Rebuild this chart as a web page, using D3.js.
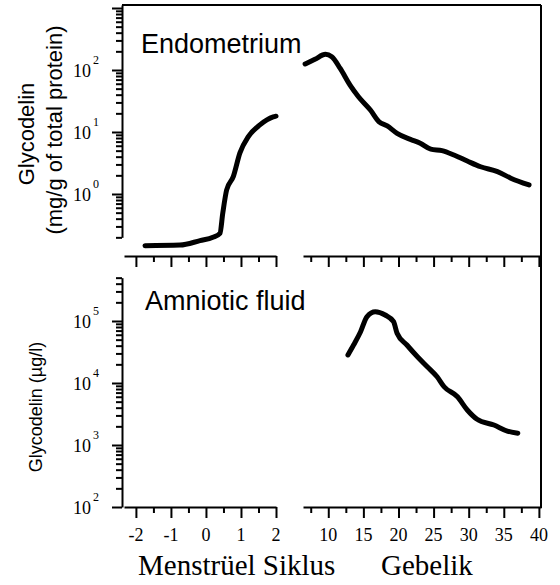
<!DOCTYPE html>
<html>
<head>
<meta charset="utf-8">
<script src="https://cdn.jsdelivr.net/npm/d3@7"></script>
<style>
  body { margin: 0; background: #fff; }
  svg { display: block; }
  .sans { font-family: "Liberation Sans", Arial, sans-serif; }
  .serif { font-family: "Liberation Serif", "Times New Roman", serif; }
</style>
</head>
<body>
<svg id="chart" width="560" height="585"></svg>
<script>
// menstrual cycle (months around ovulation) -> endometrium glycodelin
const cycleTime = [-1.74, -0.74, -0.17, 0.2, 0.4, 0.48, 0.59, 0.78, 0.97, 1.21, 1.54, 1.92, 2.0];
const endoCycle = [0.147, 0.150, 0.177, 0.2, 0.232, 0.49, 1.16, 1.9, 4.6, 8.4, 13, 17.5, 18];

// pregnancy weeks -> endometrium glycodelin
const pregWeekEndo = [6.7, 8.1, 9.6, 10.5, 11.7, 13.1, 14.3, 16, 17.2, 18.4, 19.8, 21.7, 23.1, 24.6, 26.2, 27.9, 29.8, 31.7, 34.1, 36, 38.6];
const endoPreg = [125, 149, 179, 164, 106, 57, 37, 22.6, 14.7, 12.5, 9.5, 7.6, 6.6, 5.3, 5.0, 4.25, 3.4, 2.75, 2.3, 1.8, 1.4];

// pregnancy weeks -> amniotic fluid glycodelin
const pregWeekAmnio = [12.8, 13.6, 14.6, 15.5, 16.7, 18.1, 19.3, 19.8, 21.2, 22.7, 24.1, 25.5, 26.5, 28.4, 29.8, 31.2, 33.6, 35.5, 37.0];
const amnioPreg = [28300, 41000, 67100, 117000, 141000, 125000, 97500, 63400, 41000, 26500, 18300, 12600, 8700, 6000, 3670, 2600, 2100, 1680, 1550];

const cycleTicks = [-2, -1, 0, 1, 2];
const weekTicks = [10, 15, 20, 25, 30, 35, 40];
const topYLabels = [0, 1, 2];      // exponents
const bottomYLabels = [2, 3, 4, 5];

const svg = d3.select("#chart");
const decade = 62;

// scales
const xCycle = d3.scaleLinear().domain([-2.34, 2]).range([124, 276]);
const xWeek = d3.scaleLinear().domain([6.4, 40.3]).range([303, 541]);
const yTop = d3.scaleLog().domain([0.2, 1120])
    .range([194 - decade * Math.log10(0.2), 194 - decade * Math.log10(1120)]);
const yBot = d3.scaleLog().domain([100, 5e5])
    .range([507, 507 - decade * Math.log10(5e5 / 100)]);

const axisX = 122;

function styleAxis(sel) {
    sel.selectAll("path").attr("stroke", "#000").attr("stroke-width", 2);
    sel.selectAll("line").attr("stroke", "#000").attr("stroke-width", 2);
}

function drawLogAxis(y) {
    const all = y.ticks();
    const isMajor = v => Math.abs(Math.log10(v) - Math.round(Math.log10(v))) < 1e-6;
    const minor = svg.append("g")
        .attr("transform", `translate(${axisX},0)`)
        .call(d3.axisLeft(y).tickValues(all.filter(v => !isMajor(v))).tickSize(6).tickSizeOuter(0).tickFormat(""));
    styleAxis(minor);
    const major = svg.append("g")
        .attr("transform", `translate(${axisX},0)`)
        .call(d3.axisLeft(y).tickValues(all.filter(isMajor)).tickSize(10).tickSizeOuter(0).tickFormat(""));
    major.select(".domain").remove();
    styleAxis(major);
}

function drawPowLabels(y, exps) {
    exps.forEach(e => {
        svg.append("text").attr("class", "serif")
            .attr("x", 91).attr("y", y(Math.pow(10, e)) + 7)
            .attr("text-anchor", "end").attr("font-size", 18).text("10");
        svg.append("text").attr("class", "serif")
            .attr("x", 93).attr("y", y(Math.pow(10, e)) - 6)
            .attr("font-size", 12).text(e);
    });
}

function drawXAxis(x, yPos, vals, isMajor, labels) {
    const minor = svg.append("g")
        .attr("transform", `translate(0,${yPos})`)
        .call(d3.axisBottom(x).tickValues(vals.filter(v => !isMajor(v))).tickSize(6).tickSizeOuter(0).tickFormat(""));
    styleAxis(minor);
    const major = svg.append("g")
        .attr("transform", `translate(0,${yPos})`)
        .call(d3.axisBottom(x).tickValues(vals.filter(isMajor)).tickSize(11).tickSizeOuter(0).tickFormat(""));
    major.select(".domain").remove();
    styleAxis(major);
    if (labels) {
        svg.append("g").selectAll("text")
            .data(labels)
            .enter().append("text")
            .attr("class", "serif")
            .attr("x", d => x(d))
            .attr("y", yPos + 34)
            .attr("text-anchor", "middle")
            .attr("font-size", 18)
            .text(d => d);
    }
}

// frame: top border and right border
svg.append("line").attr("x1", axisX).attr("x2", 541).attr("y1", 5).attr("y2", 5)
    .attr("stroke", "#000").attr("stroke-width", 2);
svg.append("line").attr("x1", 541).attr("x2", 541).attr("y1", 5).attr("y2", 508)
    .attr("stroke", "#000").attr("stroke-width", 2);

// y axes
drawLogAxis(yTop);
drawLogAxis(yBot);
drawPowLabels(yTop, topYLabels);
drawPowLabels(yBot, bottomYLabels);

// x axes
const cycleVals = d3.range(-2, 2.01, 0.5);
const weekVals = d3.range(7.5, 40.01, 2.5);
const cycMajor = v => Math.abs(v - Math.round(v)) < 1e-6;
const wkMajor = v => Math.abs(v / 5 - Math.round(v / 5)) < 1e-6;
drawXAxis(xCycle, 256, cycleVals, cycMajor, null);
drawXAxis(xWeek, 256, weekVals, wkMajor, null);
drawXAxis(xCycle, 507, cycleVals, cycMajor, cycleTicks);
drawXAxis(xWeek, 507, weekVals, wkMajor, weekTicks);

// curves
function drawCurve(xs, ys, x, y) {
    const pts = xs.map((d, i) => [d, ys[i]]);
    const line = d3.line()
        .x(d => x(d[0]))
        .y(d => y(d[1]))
        .curve(d3.curveMonotoneX);
    svg.append("path")
        .datum(pts)
        .attr("fill", "none")
        .attr("stroke", "#000")
        .attr("stroke-width", 5)
        .attr("stroke-linejoin", "round")
        .attr("stroke-linecap", "round")
        .attr("d", line);
}
drawCurve(cycleTime, endoCycle, xCycle, yTop);
drawCurve(pregWeekEndo, endoPreg, xWeek, yTop);
drawCurve(pregWeekAmnio, amnioPreg, xWeek, yBot);

// panel titles
svg.append("text").attr("class", "sans").attr("x", 141).attr("y", 53)
    .attr("font-size", 27).text("Endometrium");
svg.append("text").attr("class", "sans").attr("x", 145).attr("y", 310)
    .attr("font-size", 27).text("Amniotic fluid");

// y axis titles
svg.append("text").attr("class", "sans")
    .attr("transform", "translate(34,134) rotate(-90)")
    .attr("text-anchor", "middle").attr("font-size", 22).text("Glycodelin");
svg.append("text").attr("class", "sans")
    .attr("transform", "translate(62,130) rotate(-90)")
    .attr("text-anchor", "middle").attr("font-size", 22).text("(mg/g of total protein)");
svg.append("text").attr("class", "sans")
    .attr("transform", "translate(42,407) rotate(-90)")
    .attr("text-anchor", "middle").attr("font-size", 18).text("Glycodelin (µg/l)");

// x axis titles
svg.append("text").attr("class", "serif").attr("x", 138).attr("y", 575)
    .attr("font-size", 29).text("Menstrüel Siklus");
svg.append("text").attr("class", "serif").attr("x", 381).attr("y", 575)
    .attr("font-size", 29).text("Gebelik");
</script>
</body>
</html>
